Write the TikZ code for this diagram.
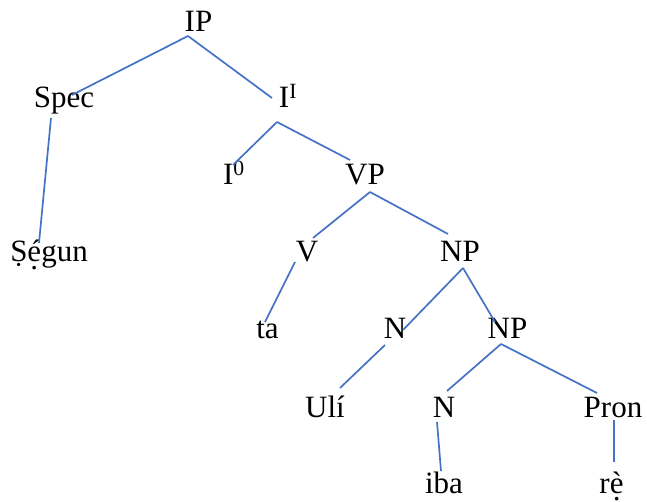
\documentclass[tikz,border=0pt]{standalone}
\usepackage{fontspec}
\setmainfont{Liberation Serif}
\definecolor{branchblue}{RGB}{68,114,196}
% dot below an accented letter
\newcommand\subdot[1]{\oalign{#1\crcr\hidewidth.\hidewidth}}

\begin{document}
\begin{tikzpicture}[x=1pt,y=-1pt,
  cat/.style={anchor=base,inner sep=0pt,font=\fontsize{31}{36}\selectfont},
  branch/.style={draw=branchblue,line width=1.7pt}]
\useasboundingbox (0,0) rectangle (647,502);
% categories and words, placed at their baselines
\node[cat] (ip)    at (198.5,32) {IP};
\node[cat] (spec)  at (64,108)   {Spec};
\node[cat] (ibar)  at (288,108)  {I\textsuperscript{I}};
\node[cat] (segun) at (49,262)   {Ṣ\subdot{é}gun};
\node[cat] (izero) at (234,185)  {I\textsuperscript{0}};
\node[cat] (vp)    at (365,185)  {VP};
\node[cat] (v)     at (307,262)  {V};
\node[cat] (np)    at (460,262)  {NP};
\node[cat] (ta)    at (267.5,338) {ta};
\node[cat] (n)     at (395,338)  {N};
\node[cat] (npb)   at (507.5,338) {NP};
\node[cat] (uli)   at (325,417)  {Ulí};
\node[cat] (nb)    at (444,417)  {N};
\node[cat] (pron)  at (613,417)  {Pron};
\node[cat] (iba)   at (444,493)  {iba};
\node[cat] (re)    at (611.5,493) {r\subdot{è}};
% branches
\draw[branch] ([shift={(-10.5,4)}]ip.base) -- ([shift={(8,-13)}]spec.base);
\draw[branch] ([shift={(-10.5,4)}]ip.base) -- ([shift={(-16,-10)}]ibar.base);
\draw[branch] ([shift={(-13,10)}]spec.base) -- ([shift={(-10,-19)}]segun.base);
\draw[branch] ([shift={(-11,14)}]ibar.base) -- ([shift={(-1,-20)}]izero.base);
\draw[branch] ([shift={(-11,14)}]ibar.base) -- ([shift={(-15,-25)}]vp.base);
\draw[branch] ([shift={(5,7)}]vp.base) -- ([shift={(6,-24)}]v.base);
\draw[branch] ([shift={(5,7)}]vp.base) -- ([shift={(-12,-28)}]np.base);
\draw[branch] ([shift={(-12,0)}]v.base) -- ([shift={(-2.5,-16)}]ta.base);
\draw[branch] ([shift={(3,6)}]np.base) -- ([shift={(8,-8)}]n.base);
\draw[branch] ([shift={(3,6)}]np.base) -- ([shift={(-12.5,-16)}]npb.base);
\draw[branch] ([shift={(-10,7)}]n.base) -- ([shift={(15,-29)}]uli.base);
\draw[branch] ([shift={(-6.5,6)}]npb.base) -- ([shift={(3,-26)}]nb.base);
\draw[branch] ([shift={(-6.5,6)}]npb.base) -- ([shift={(-16,-24)}]pron.base);
\draw[branch] ([shift={(-7,5)}]nb.base) -- ([shift={(-3,-22)}]iba.base);
\draw[branch] ([shift={(1,3)}]pron.base) -- ([shift={(2.5,-31)}]re.base);
\end{tikzpicture}
\end{document}
